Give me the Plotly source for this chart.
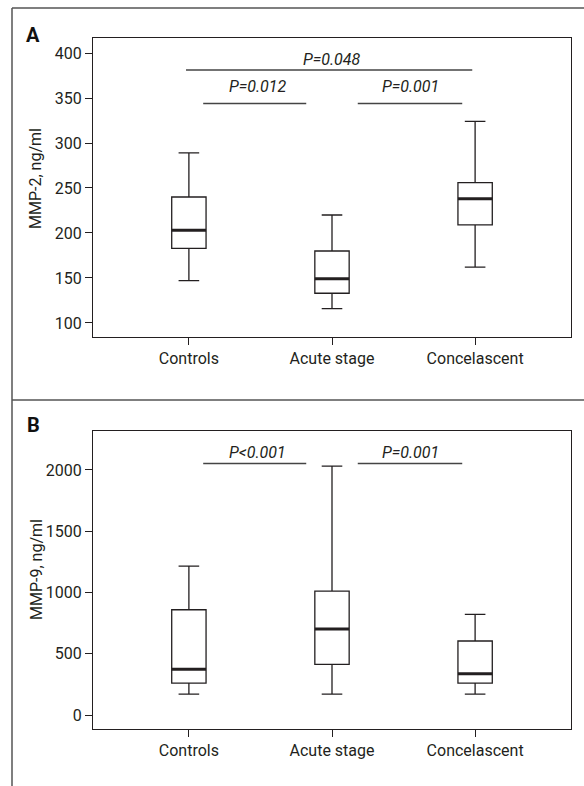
import plotly.graph_objects as go

categories = ["Controls", "Acute stage", "Concelascent"]

# Panel A: MMP-2, ng/ml
a_low = [147, 116, 162]
a_q1 = [183, 133, 209]
a_med = [203, 149, 238]
a_q3 = [240, 180, 256]
a_high = [289, 220, 324]

# Panel B: MMP-9, ng/ml
b_low = [171, 171, 171]
b_q1 = [261, 413, 261]
b_med = [373, 701, 337]
b_q3 = [859, 1011, 604]
b_high = [1215, 2031, 821]

# Significance brackets: (x0, x1, y, label, label_x, label_y)
a_brackets = [
    (-0.02, 1.98, 381, "P=0.048", 1.0, 392.5),
    (0.1, 0.82, 344, "P=0.012", 0.48, 363),
    (1.18, 1.91, 344, "P=0.001", 1.55, 363),
]
b_brackets = [
    (0.1, 0.82, 2053, "P<0.001", 0.48, 2140),
    (1.18, 1.91, 2053, "P=0.001", 1.55, 2140),
]

FONT = "Roboto, Liberation Sans, sans-serif"
INK = "#231f20"
FS = 16
xs = [0, 1, 2]
BW = 0.24

fig = go.Figure()


def add_panel(low, q1, med, q3, high, xa, ya):
    for i in range(3):
        fig.add_trace(go.Box(
            x=[xs[i]], q1=[q1[i]], median=[med[i]], q3=[q3[i]],
            lowerfence=[low[i]], upperfence=[high[i]],
            width=BW, whiskerwidth=0.6, fillcolor="white",
            line=dict(color=INK, width=1.3), boxpoints=False,
            xaxis=xa, yaxis=ya, showlegend=False, hoverinfo="skip",
        ))
        fig.add_trace(go.Scatter(
            x=[xs[i] - BW / 2, xs[i] + BW / 2], y=[med[i], med[i]],
            mode="lines", line=dict(color=INK, width=3),
            xaxis=xa, yaxis=ya, showlegend=False, hoverinfo="skip",
        ))


add_panel(a_low, a_q1, a_med, a_q3, a_high, "x", "y")
add_panel(b_low, b_q1, b_med, b_q3, b_high, "x2", "y2")

shapes = []
annotations = []
for brs, xr, yr in [(a_brackets, "x", "y"), (b_brackets, "x2", "y2")]:
    for x0, x1, yv, lab, lx, ly in brs:
        shapes.append(dict(type="line", xref=xr, yref=yr, x0=x0, x1=x1, y0=yv, y1=yv,
                           line=dict(color="#444", width=1.5)))
        annotations.append(dict(xref=xr, yref=yr, x=lx, y=ly, text="<i>" + lab + "</i>",
                                xanchor="center", yanchor="middle",
                                showarrow=False, font=dict(family=FONT, size=FS, color=INK)))

# Frame lines
for (x0, y0, x1, y1) in [(12, 8, 584, 8), (12, 400, 584, 400), (12, 8, 12, 786)]:
    shapes.append(dict(type="line", xref="paper", yref="paper",
                       x0=x0 / 584, x1=x1 / 584, y0=1 - y0 / 786, y1=1 - y1 / 786,
                       line=dict(color="#555", width=1.5)))

# Panel letters and axis titles
pa = dict(xref="paper", yref="paper", xanchor="center", yanchor="middle", showarrow=False)
annotations += [
    dict(x=33 / 584, y=1 - 35 / 786, text="<b>A</b>",
         font=dict(family=FONT, size=20, color="#111"), **pa),
    dict(x=33 / 584, y=1 - 425 / 786, text="<b>B</b>",
         font=dict(family=FONT, size=20, color="#111"), **pa),
    dict(x=36 / 584, y=1 - 179 / 786, text="MMP-2, ng/ml", textangle=-90,
         font=dict(family=FONT, size=FS, color=INK), **pa),
    dict(x=36 / 584, y=1 - 570 / 786, text="MMP-9, ng/ml", textangle=-90,
         font=dict(family=FONT, size=FS, color=INK), **pa),
]

axis_common = dict(showline=True, mirror=True, linecolor=INK, linewidth=1.3,
                   ticks="outside", ticklen=7, tickcolor=INK, tickwidth=1.3,
                   showgrid=False, zeroline=False,
                   tickfont=dict(family=FONT, size=FS, color=INK))

fig.update_layout(
    width=584, height=786, margin=dict(l=0, r=0, t=0, b=0),
    paper_bgcolor="white", plot_bgcolor="white",
    xaxis=dict(domain=[93 / 584, 571 / 584], anchor="y", range=[-0.67, 2.67],
               tickvals=xs, ticktext=categories, **axis_common),
    yaxis=dict(domain=[1 - 337 / 786, 1 - 38 / 786], anchor="x", range=[84.4, 416.7],
               tickvals=[100, 150, 200, 250, 300, 350, 400], **axis_common),
    xaxis2=dict(domain=[93 / 584, 571 / 584], anchor="y2", range=[-0.67, 2.67],
                tickvals=xs, ticktext=categories, **axis_common),
    yaxis2=dict(domain=[1 - 729 / 786, 1 - 430.7 / 786], anchor="x2", range=[-114, 2320],
                tickvals=[0, 500, 1000, 1500, 2000], **axis_common),
    shapes=shapes, annotations=annotations,
)

fig.write_html("out.html")
